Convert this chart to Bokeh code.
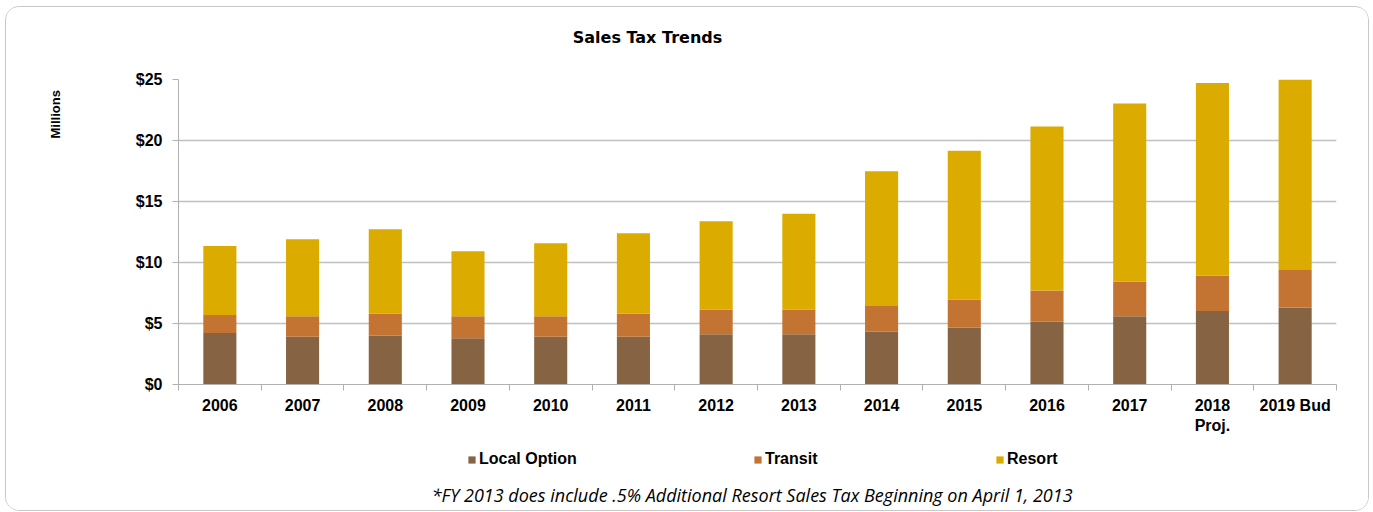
import math
from bokeh.plotting import figure
from bokeh.layouts import column, row
from bokeh.models import (ColumnDataSource, FixedTicker, NumeralTickFormatter, Legend,
                          LegendItem, Label, Range1d)
from bokeh.embed import file_html
from bokeh.resources import INLINE

years = ["2006", "2007", "2008", "2009", "2010", "2011", "2012", "2013",
         "2014", "2015", "2016", "2017", "2018\nProj.", "2019 Bud"]
local_option = [4.22, 3.92, 4.00, 3.79, 3.92, 3.92, 4.11, 4.11, 4.33, 4.66, 5.15, 5.59, 6.02, 6.32]
transit = [1.48, 1.67, 1.80, 1.80, 1.67, 1.88, 2.02, 2.02, 2.10, 2.31, 2.56, 2.86, 2.92, 3.06]
resort = [5.66, 6.31, 6.93, 5.34, 5.99, 6.60, 7.25, 7.87, 11.04, 12.19, 13.44, 14.58, 15.78, 15.62]
series = ["Local Option", "Transit", "Resort"]
colors = ["#866443", "#C47432", "#DBAB00"]
y_ticks = [0, 5, 10, 15, 20, 25]
title_text = "Sales Tax Trends"
y_label = "Millions"
footnote = "*FY 2013 does include .5% Additional Resort  Sales Tax Beginning on April 1, 2013"

xs = list(range(len(years)))
source = ColumnDataSource(dict(x=xs, **{"Local Option": local_option, "Transit": transit, "Resort": resort}))

W = 1362
LEFT_W = 100
TOP_H, MID_H, BOT_H = 60, 369, 74


def blank(w, h):
    f = figure(width=w, height=h, output_backend="svg", toolbar_location=None,
               x_range=Range1d(1000, 1000 + w), y_range=Range1d(1000, 1000 + h),
               x_axis_location=None, y_axis_location=None, min_border=0)
    f.grid.visible = False
    f.outline_line_color = None
    f.background_fill_color = "white"
    f.border_fill_color = "white"
    return f


# top strip: title
pt = blank(W, TOP_H)
pt.add_layout(Label(x=641, y=30, x_units="screen", y_units="screen", text=title_text,
                    text_align="center", text_baseline="middle",
                    text_font="DejaVu Sans", text_font_size="16px", text_font_style="bold",
                    text_color="black"))

# left strip: y label (reading upward)
p0 = blank(LEFT_W, MID_H)
p0.add_layout(Label(x=49, y=246, x_units="screen", y_units="screen", text=y_label,
                    angle=math.pi / 2, text_align="left", text_baseline="middle",
                    text_font="Liberation Sans", text_font_size="13px", text_font_style="bold",
                    text_color="black"))

# main chart
p = figure(width=W - LEFT_W, height=MID_H, output_backend="svg", toolbar_location=None,
           x_range=Range1d(-0.5, len(years) - 0.5), y_range=Range1d(0, 25),
           min_border_left=72, min_border_right=32, min_border_top=12, min_border_bottom=51)
p.outline_line_color = None
p.background_fill_color = "white"
p.border_fill_color = "white"

rs = p.vbar_stack(series, x="x", width=0.4, color=colors, source=source, line_color=None)

xa = p.xaxis[0]
xa.ticker = FixedTicker(ticks=xs, minor_ticks=[i - 0.5 for i in range(len(years) + 1)])
xa.major_label_overrides = {i: lab for i, lab in enumerate(years)}
xa.major_tick_out = 0
xa.major_tick_in = 0
xa.minor_tick_out = 6
xa.minor_tick_in = 0
xa.minor_tick_line_color = "#b0b0b0"
xa.axis_line_color = "#b0b0b0"
xa.major_label_text_font = "Liberation Sans"
xa.major_label_text_font_size = "16px"
xa.major_label_text_font_style = "bold"
xa.major_label_text_color = "black"
xa.major_label_standoff = 6

ya = p.yaxis[0]
ya.ticker = FixedTicker(ticks=y_ticks, minor_ticks=[])
ya.formatter = NumeralTickFormatter(format="$0")
ya.major_tick_out = 6
ya.major_tick_in = 0
ya.major_tick_line_color = "#b0b0b0"
ya.axis_line_color = "#b0b0b0"
ya.major_label_text_font = "Liberation Sans"
ya.major_label_text_font_size = "16px"
ya.major_label_text_font_style = "bold"
ya.major_label_text_color = "black"
ya.major_label_standoff = 10

p.xgrid.grid_line_color = None
p.ygrid.grid_line_color = "#c0c0c0"
p.ygrid.grid_line_width = 1.5
p.ygrid.ticker = FixedTicker(ticks=y_ticks)

# bottom strip: legend + footnote
p2 = blank(W, BOT_H)
lrs = p2.vbar_stack(series, x="x", width=0.4, color=colors, source=source, line_color=None)
leg_x = [461, 747, 989]
for r, name, lx in zip(lrs, series, leg_x):
    lg = Legend(items=[LegendItem(label=name, renderers=[r])], location=(lx, 42),
                orientation="horizontal", padding=0, margin=0, spacing=0,
                glyph_width=9, glyph_height=9, label_standoff=3,
                border_line_color=None, background_fill_alpha=0,
                label_text_font="Liberation Sans", label_text_font_size="16px",
                label_text_font_style="bold", label_text_color="black")
    p2.add_layout(lg, "center")
p2.add_layout(Label(x=748, y=16, x_units="screen", y_units="screen", text=footnote,
                    text_align="center", text_baseline="middle",
                    text_font="Open Sans", text_font_size="18px", text_font_style="italic",
                    text_color="black"))

layout = column(pt, row(p0, p), p2, spacing=0,
                styles={"border": "1px solid #c8c8c8", "border-radius": "14px",
                        "margin-left": "5px", "margin-top": "6px", "overflow": "hidden"})

open("out.html", "w").write(file_html(layout, INLINE))
